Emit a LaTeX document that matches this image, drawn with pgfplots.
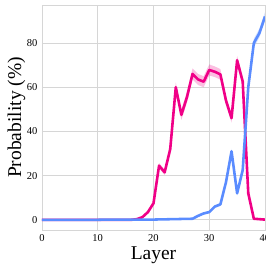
\documentclass[border=0pt]{standalone}
\usepackage{pgfplots}
\pgfplotsset{compat=1.18}
\usepackage{pgfplotstable}
\usepgfplotslibrary{fillbetween}
\usepackage{fontspec}
\setmainfont{Liberation Serif}
\definecolor{pinkc}{RGB}{240,0,135}
\definecolor{bluec}{RGB}{90,140,255}
\definecolor{gridc}{RGB}{214,214,214}

\pgfplotstableread{
L m lo hi
0 0 0 0
1 0 0 0
2 0 0 0
3 0 0 0
4 0 0 0
5 0 0 0
6 0 0 0
7 0 0 0
8 0 0 0
9 0 0 0
10 0 0 0
11 0 0 0
12 0 0 0
13 0 0 0
14 0 0 0
15 0 0 0
16 0 0 0
17 0.3 0.1 0.5
18 1.2 0.8 1.6
19 3.5 3.0 4.0
20 7.5 6.8 8.2
21 24.5 23.3 25.7
22 21.5 20.3 22.7
23 32 30.5 33.5
24 60 57.8 62.2
25 47.5 45.2 49.8
26 55.5 53.0 58.0
27 66 63.5 68.5
28 63.5 61.0 66.0
29 62.5 60.0 65.0
30 67.8 65.3 70.3
31 67 64.6 69.4
32 65.8 63.4 68.2
33 54 52 56
34 46 44 48
35 72.2 70.2 74.2
36 62.6 60.6 64.6
37 12 10.5 13.5
38 0.5 0.3 0.7
39 0.3 0.1 0.5
40 0.1 0 0.2
}\pinkdata

\pgfplotstableread{
L m lo hi
0 0 0 0
1 0 0 0
2 0 0 0
3 0 0 0
4 0 0 0
5 0 0 0
6 0 0 0
7 0 0 0
8 0 0 0
9 0 0 0
10 0 0 0
11 0.1 0 0.2
12 0.1 0 0.2
13 0.1 0 0.2
14 0.1 0 0.2
15 0.1 0 0.2
16 0.1 0 0.2
17 0.1 0 0.2
18 0.1 0 0.2
19 0.1 0 0.2
20 0.1 0 0.2
21 0.2 0.1 0.3
22 0.2 0.1 0.3
23 0.3 0.2 0.4
24 0.3 0.2 0.4
25 0.4 0.3 0.5
26 0.4 0.3 0.5
27 0.5 0.3 0.7
28 1.8 1.4 2.2
29 2.9 2.4 3.4
30 3.5 3.0 4.0
31 6 5.4 6.6
32 7 6.3 7.7
33 17 16 18
34 31 29.8 32.2
35 12 11 13
36 22.5 21.3 23.7
37 60 58.5 61.5
38 80 78 82
39 84.5 82.5 86.5
40 92 90 94
}\bluedata

\begin{document}
\begin{tikzpicture}
\begin{axis}[
  scale only axis,
  width=223pt, height=225pt,
  xmin=0, xmax=40,
  ymin=-4.6, ymax=97.2,
  xtick={0,10,20,30,40},
  ytick={0,20,40,60,80},
  grid=major,
  major grid style={gridc, line width=0.8pt},
  axis line style={gridc, line width=0.8pt},
  major tick length=0pt,
  tick label style={font=\fontsize{10.5}{12}\selectfont, /pgf/number format/assume math mode=true},
  xticklabel style={yshift=-1pt},
  yticklabel style={xshift=-1pt},
  xlabel={Layer},
  ylabel={Probability (\%)},
  label style={font=\fontsize{19.5}{22}\selectfont},
  xlabel style={at={(axis description cs:0.5,-0.1333)}, anchor=base},
  ylabel style={at={(axis description cs:-0.094,0.5)}, anchor=base},
  clip=true,
]
\addplot[draw=none, name path=pu, forget plot] table[x=L, y=hi] {\pinkdata};
\addplot[draw=none, name path=pl, forget plot] table[x=L, y=lo] {\pinkdata};
\addplot[pinkc, fill opacity=0.25, draw=none, forget plot] fill between[of=pu and pl];
\addplot[draw=none, name path=bu, forget plot] table[x=L, y=hi] {\bluedata};
\addplot[draw=none, name path=bl, forget plot] table[x=L, y=lo] {\bluedata};
\addplot[bluec, fill opacity=0.25, draw=none, forget plot] fill between[of=bu and bl];
\addplot[pinkc, line width=2.6pt, line join=round] table[x=L, y=m] {\pinkdata};
\addplot[bluec, line width=2.6pt, line join=round] table[x=L, y=m] {\bluedata};
\end{axis}
\pgfresetboundingbox
\path (current axis.south west) ++(-42pt,-36pt) rectangle ++(266pt,266pt);
\end{tikzpicture}
\end{document}
